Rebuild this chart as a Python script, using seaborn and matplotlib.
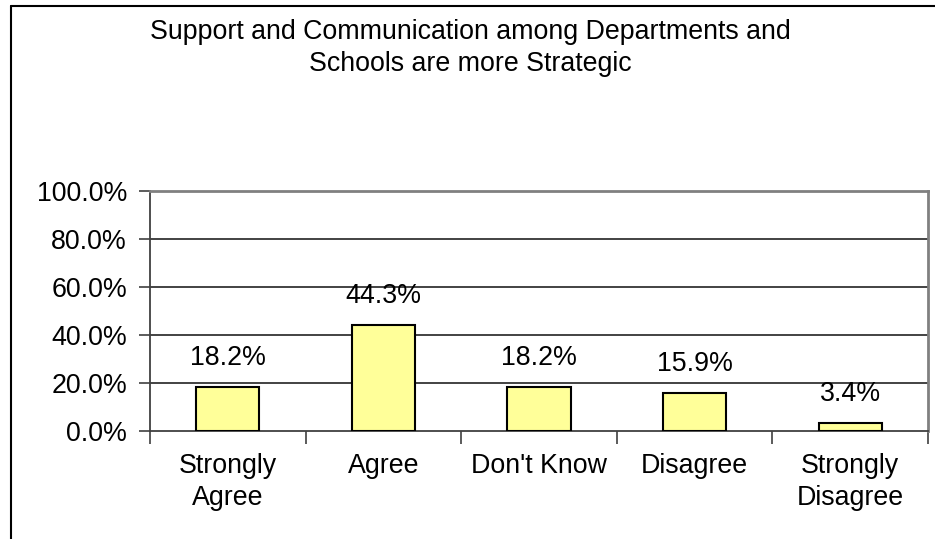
import matplotlib
matplotlib.use("Agg")
import matplotlib.pyplot as plt
from matplotlib.lines import Line2D
from matplotlib.ticker import FuncFormatter
import seaborn as sns
import pandas as pd

categories = ["Strongly\nAgree", "Agree", "Don't Know", "Disagree", "Strongly\nDisagree"]
values = [18.2, 44.3, 18.2, 15.9, 3.4]
yticks = [0, 20, 40, 60, 80, 100]
title = "Support and Communication among Departments and\nSchools are more Strategic"

sns.set_theme(style="white")
plt.rcParams['font.family'] = ['Liberation Sans', 'DejaVu Sans']
plt.rcParams['text.color'] = 'black'

FS = 19.3

df = pd.DataFrame({"cat": categories, "val": values})

fig = plt.figure(figsize=(9.35, 5.39), dpi=100)
ax = fig.add_axes([150/935, 1-431/539, (928-150)/935, (431-191)/539])

sns.barplot(data=df, x="cat", y="val", ax=ax, color="#FFFF99", saturation=1,
            width=0.405, edgecolor="black", linewidth=1.5, zorder=3)

ax.set_ylim(0, 100)
ax.set_xlim(-0.5, len(categories) - 0.5)
ax.set_yticks(yticks)
ax.yaxis.set_major_formatter(FuncFormatter(lambda v, p: f"{v:.1f}%"))
ax.set_xlabel("")
ax.set_ylabel("")

for y in yticks[1:-1]:
    ax.axhline(y, color="#222222", linewidth=1.2, zorder=1)

for s in ["left", "bottom"]:
    ax.spines[s].set_color("#404040")
    ax.spines[s].set_linewidth(1.3)
for s in ["top", "right"]:
    ax.spines[s].set_color("#808080")
    ax.spines[s].set_linewidth(2)

ax.tick_params(axis="y", which="major", length=8, width=1.2, color="#404040",
               left=True, labelsize=FS, pad=8.5, labelcolor="black")
ax.tick_params(axis="x", which="major", length=0, labelsize=FS, pad=16, labelcolor="black")
for lab in ax.get_xticklabels():
    lab.set_linespacing(1.3)

# category-boundary ticks on x axis
ax.set_xticks([i - 0.5 for i in range(len(categories) + 1)], minor=True)
ax.tick_params(axis="x", which="minor", length=9, width=1.2, color="#404040", bottom=True)

for i, v in enumerate(values):
    ax.annotate(f"{v:.1f}%", xy=(i, v), xytext=(0, 21), textcoords="offset points",
                ha="center", va="center", fontsize=FS, color="black")

fig.text(470/935, 1-48/539, title, ha="center", va="center", fontsize=FS,
         linespacing=1.32, multialignment="center", color="black")

# outer frame (left and top edges)
fig.add_artist(Line2D([11/935, 11/935], [0, 1-6/539], transform=fig.transFigure,
                      color="black", linewidth=1.5))
fig.add_artist(Line2D([11/935, 1], [1-6/539, 1-6/539], transform=fig.transFigure,
                      color="black", linewidth=1.5))

fig.savefig("out.png", dpi=100, facecolor="white")
